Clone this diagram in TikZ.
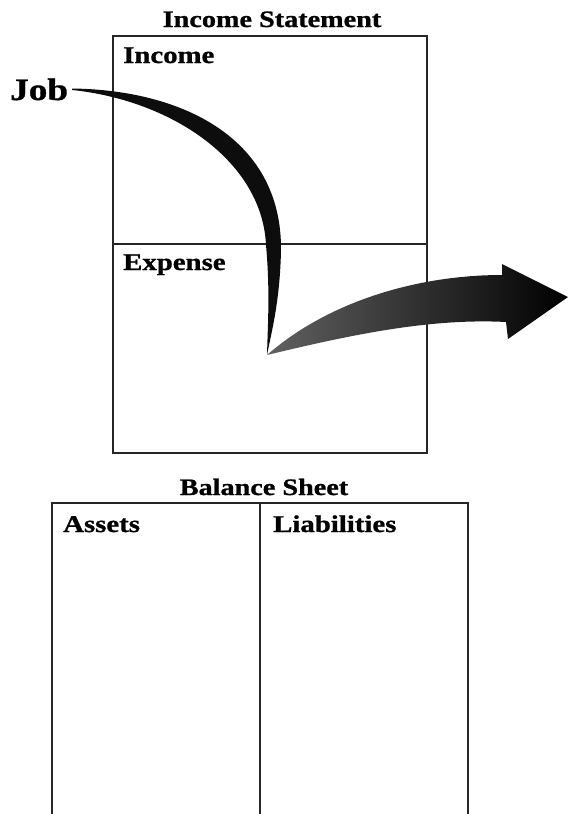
\documentclass[tikz,border=0pt]{standalone}
\usepackage{fontspec}
\setmainfont{Liberation Serif}[FakeStretch=1.2, BoldFeatures={FakeBold=1}]
\begin{document}
\begin{tikzpicture}[x=1pt,y=-1pt,
  frame/.style={line width=1.6pt, draw=black!85},
  lbl/.style={font=\bfseries\fontsize{24}{28}\selectfont, inner sep=0pt, anchor=base west},
  ttl/.style={font=\bfseries\fontsize{23.5}{28}\selectfont, inner sep=0pt, anchor=base}]
\useasboundingbox (0,0) rectangle (568,814);
% Income statement
\node[ttl] (istitle) at (272,27) {Income Statement};
\draw[frame] (113,36) rectangle (427,453);
\draw[frame] (113,244) -- (427,244);
\node[lbl] (income) at (123,63) {Income};
\node[lbl] (expense) at (123,270) {Expense};
\node[lbl, font=\bfseries\fontsize{31}{34}\selectfont] (job) at (10,100) {Job};
% Balance sheet
\node[ttl] (bstitle) at (264,495) {Balance Sheet};
\draw[frame] (52,814) -- (52,503) -- (468,503) -- (468,814);
\draw[frame] (260,503) -- (260,814);
\node[lbl] (assets) at (63,532) {Assets};
\node[lbl] (liab) at (273,532) {Liabilities};
% Job curve
\coordinate (jstart) at (72,88.5);
\coordinate (jtip) at (267,355);
\fill[black!95] (jstart) .. controls (185,90) and (282,140) .. (281,250)
   .. controls (280,300) and (272,330) .. (jtip)
   .. controls (268,320) and (270,290) .. (266,245)
   .. controls (262,160) and (170,100) .. (72,90) -- cycle;
% Outgoing arrow
\shade[left color=black!62, middle color=black!92, right color=black]
   (jtip) .. controls (330,300) and (420,275) .. (502,275)
   -- (502,264) -- (568,297) -- (508,339) -- (506,322)
   .. controls (430,318) and (350,335) .. (jtip) -- cycle;
\end{tikzpicture}
\end{document}
